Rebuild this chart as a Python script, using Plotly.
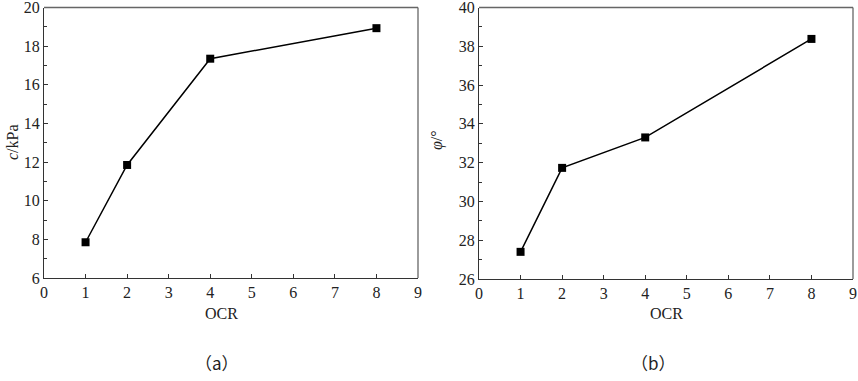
import plotly.graph_objects as go

ocr = [1, 2, 4, 8]
cohesion_kpa = [7.85, 11.85, 17.35, 18.93]
friction_deg = [27.4, 31.73, 33.3, 38.38]

x_ticks = list(range(0, 10))
y_ticks_a = list(range(6, 21, 2))
y_ticks_b = list(range(26, 41, 2))

W, H = 858, 381
def px(x): return x / W
def py(y): return 1 - y / H

fig = go.Figure()
marker = dict(symbol="square", size=8, color="black")
line = dict(color="black", width=1.5)
fig.add_trace(go.Scatter(x=ocr, y=cohesion_kpa, mode="lines+markers", marker=marker, line=line,
                         xaxis="x", yaxis="y", showlegend=False, cliponaxis=False))
fig.add_trace(go.Scatter(x=ocr, y=friction_deg, mode="lines+markers", marker=marker, line=line,
                         xaxis="x2", yaxis="y2", showlegend=False, cliponaxis=False))

tickfont = dict(family="Liberation Serif, Times New Roman, serif", size=16, color="#222")
axcommon = dict(showline=True, linecolor="#333", linewidth=1.3, ticks="inside", ticklen=4,
                tickcolor="#333", tickwidth=1, showgrid=False, zeroline=False, tickfont=tickfont,
                mirror=False, automargin=False, ticklabeloverflow="allow")

fig.update_layout(
    width=W, height=H, margin=dict(l=0, r=0, t=0, b=0),
    paper_bgcolor="white", plot_bgcolor="white",
    xaxis=dict(domain=[px(44), px(418)], range=[0, 9], tickvals=x_ticks, anchor="y", **axcommon),
    yaxis=dict(domain=[py(278), py(7.5)], range=[6, 20], tickvals=y_ticks_a, anchor="x",
               minor=dict(ticks="inside", ticklen=3, tickcolor="#333", dtick=1), **axcommon),
    xaxis2=dict(domain=[px(479), px(853)], range=[0, 9], tickvals=x_ticks, anchor="y2", **axcommon),
    yaxis2=dict(domain=[py(279), py(7.5)], range=[26, 40], tickvals=y_ticks_b, anchor="x2",
                minor=dict(ticks="inside", ticklen=3, tickcolor="#333", dtick=1), **axcommon),
)

# box top/right lines
for xr, yr in (("x", "y"), ("x2", "y2")):
    fig.add_shape(type="line", xref=f"{xr} domain", yref=f"{yr} domain", x0=0, x1=1, y0=1, y1=1,
                  line=dict(color="#666", width=1.3))
    fig.add_shape(type="line", xref=f"{xr} domain", yref=f"{yr} domain", x0=1, x1=1, y0=0, y1=1,
                  line=dict(color="#666", width=1.3))

titlefont = dict(family="Liberation Serif, Times New Roman, serif", size=16, color="#222")
capfont = dict(family="Noto Sans CJK SC, sans-serif", size=17, color="#222")
ann = [
    dict(x=px(221), y=py(313), text="OCR", font=titlefont),
    dict(x=px(666), y=py(313), text="OCR", font=titlefont),
    dict(x=px(12), y=py(142), text="<i>c</i>/kPa", font=titlefont, textangle=-90),
    dict(x=px(437), y=py(140), text="<i>φ</i>/°", font=titlefont, textangle=-90),
    dict(x=px(217), y=py(362), text="（a）", font=capfont),
    dict(x=px(653), y=py(362), text="（b）", font=capfont),
]
for a in ann:
    fig.add_annotation(xref="paper", yref="paper", showarrow=False, xanchor="center", yanchor="middle", **a)

fig.write_html("out.html", config={"displayModeBar": False},
               post_script="document.body.style.margin='0';document.body.style.overflow='hidden';")
